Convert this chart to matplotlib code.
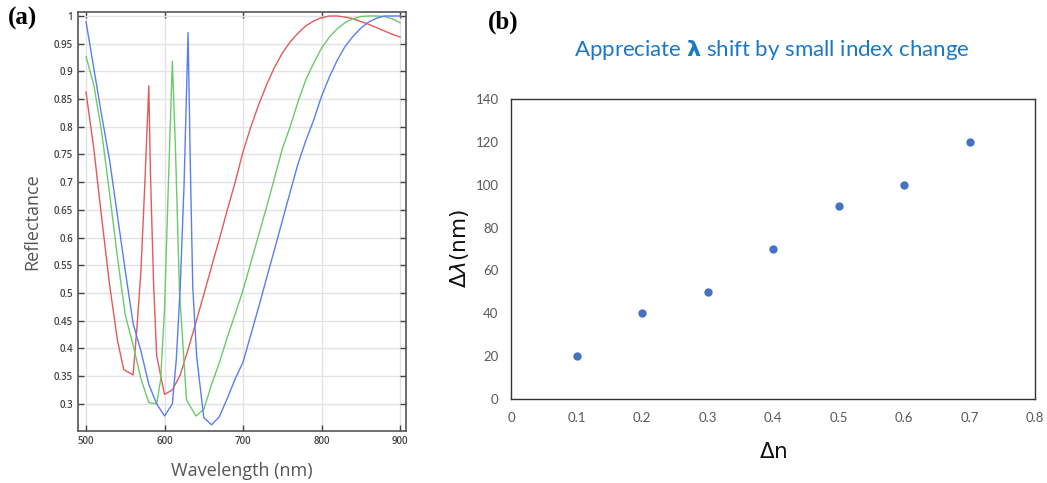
import matplotlib
matplotlib.use("Agg")
import matplotlib.pyplot as plt

# ---------------- Panel (a) data ----------------
red_wl = [500, 510, 520, 530, 540, 548, 560, 565, 570, 575, 580, 582, 586, 590, 600,
          610, 620, 630, 640, 650, 660, 670, 680, 690, 700, 710, 720, 730, 740, 750,
          760, 770, 780, 790, 800, 810, 820, 830, 840, 850, 860, 870, 880, 890, 900]
red_r = [0.863, 0.76, 0.635, 0.515, 0.415, 0.362, 0.352, 0.44, 0.54, 0.70, 0.874, 0.72,
         0.52, 0.387, 0.317, 0.325, 0.352, 0.398, 0.447, 0.497, 0.548, 0.598, 0.65, 0.70,
         0.755, 0.80, 0.84, 0.876, 0.907, 0.933, 0.953, 0.969, 0.982, 0.991, 0.997, 1.0,
         1.0, 0.998, 0.995, 0.99, 0.985, 0.979, 0.973, 0.967, 0.962]

green_wl = [500, 510, 520, 530, 540, 550, 560, 570, 580, 590, 595, 600, 605, 610, 614,
            619, 628, 640, 650, 660, 670, 680, 690, 700, 710, 720, 730, 740, 750, 760,
            770, 780, 790, 800, 810, 820, 830, 840, 850, 860, 870, 880, 890, 900]
green_r = [0.927, 0.875, 0.79, 0.68, 0.565, 0.46, 0.406, 0.345, 0.302, 0.30, 0.343, 0.47,
           0.70, 0.918, 0.758, 0.505, 0.307, 0.278, 0.29, 0.335, 0.375, 0.42, 0.462, 0.505,
           0.555, 0.605, 0.655, 0.707, 0.76, 0.80, 0.845, 0.885, 0.915, 0.942, 0.962, 0.977,
           0.988, 0.995, 0.999, 1.0, 1.0, 0.999, 0.995, 0.988]

blue_wl = [500, 510, 520, 530, 540, 550, 560, 570, 580, 590, 600, 610, 615, 620, 625,
           630, 633, 636, 641, 650, 660, 670, 680, 690, 700, 710, 720, 730, 740, 750,
           760, 770, 780, 790, 800, 810, 820, 830, 840, 850, 860, 870, 880, 890, 900]
blue_r = [0.99, 0.905, 0.82, 0.74, 0.64, 0.54, 0.445, 0.395, 0.335, 0.30, 0.278, 0.30,
          0.38, 0.51, 0.70, 0.97, 0.72, 0.51, 0.385, 0.275, 0.262, 0.277, 0.31, 0.345,
          0.375, 0.425, 0.475, 0.527, 0.578, 0.63, 0.682, 0.733, 0.775, 0.812, 0.855,
          0.89, 0.92, 0.945, 0.963, 0.978, 0.989, 0.996, 1.0, 1.0, 1.0]

a_xticks = [500, 600, 700, 800, 900]
a_yticks = [0.3, 0.35, 0.4, 0.45, 0.5, 0.55, 0.6, 0.65, 0.7, 0.75, 0.8, 0.85, 0.9, 0.95, 1.0]
a_yticklabels = ["0.3", "0.35", "0.4", "0.45", "0.5", "0.55", "0.6", "0.65", "0.7",
                 "0.75", "0.8", "0.85", "0.9", "0.95", "1"]

# ---------------- Panel (b) data ----------------
dn = [0.1, 0.2, 0.3, 0.4, 0.5, 0.6, 0.7]
dlam = [20, 40, 50, 70, 90, 100, 120]
b_xticks = [0, 0.1, 0.2, 0.3, 0.4, 0.5, 0.6, 0.7, 0.8]
b_xticklabels = ["0", "0.1", "0.2", "0.3", "0.4", "0.5", "0.6", "0.7", "0.8"]
b_yticks = [0, 20, 40, 60, 80, 100, 120, 140]

W, H = 1047, 483
fig = plt.figure(figsize=(W / 100, H / 100), dpi=100)

# ---------- (a) ----------
axa = fig.add_axes([78 / W, 1 - 431 / H, (406 - 78) / W, (431 - 12) / H])
axa.plot(red_wl, red_r, color="#e35a5a", lw=1.0)
axa.plot(green_wl, green_r, color="#6acb6a", lw=1.0)
axa.plot(blue_wl, blue_r, color="#5a7ef2", lw=1.0)
axa.set_xlim(489.8, 907.6)
axa.set_ylim(0.2509, 1.0072)
axa.set_xticks(a_xticks)
axa.set_yticks(a_yticks)
axa.set_yticklabels(a_yticklabels)
axa.grid(True, color="#e3e3e3", lw=1.0)
axa.set_axisbelow(True)
axa.tick_params(direction="in", top=True, right=True, length=4, width=1,
                color="#444444", labelsize=7, labelcolor="#444444")
for lab in axa.get_xticklabels() + axa.get_yticklabels():
    lab.set_fontfamily("Open Sans")
    lab.set_fontweight("semibold")
for s in axa.spines.values():
    s.set_color("#555555")
    s.set_linewidth(1.2)
axa.set_xlabel("Wavelength (nm)", fontsize=13, color="#555555",
               fontfamily="Open Sans", labelpad=11)
axa.set_ylabel("Reflectance", fontsize=13, color="#555555",
               fontfamily="Open Sans", labelpad=9)
fig.text(8 / W, 1 - 18 / H, "(a)", fontsize=18, fontweight="bold",
         fontfamily="Liberation Serif", va="center", ha="left")

# ---------- (b) ----------
axb = fig.add_axes([511 / W, 1 - 399 / H, 524 / W, 300 / H])
axb.scatter(dn, dlam, s=36, color="#4472c4", zorder=3, linewidths=0)
axb.set_xlim(0, 0.8)
axb.set_ylim(0, 140)
axb.set_xticks(b_xticks)
axb.set_xticklabels(b_xticklabels)
axb.set_yticks(b_yticks)
axb.tick_params(length=0, labelsize=9.5, labelcolor="#595959", pad=9)
for lab in axb.get_xticklabels() + axb.get_yticklabels():
    lab.set_fontfamily("Lato")
for s in axb.spines.values():
    s.set_color("#333333")
    s.set_linewidth(1.0)
axb.set_xlabel(r"$\Delta$n", fontsize=15.5, color="#111111", labelpad=13)
axb.set_ylabel(r"$\Delta\lambda$(nm)", fontsize=15.5, color="#111111", labelpad=3)
fig.text(488 / W, 1 - 22 / H, "(b)", fontsize=18, fontweight="bold",
         fontfamily="Liberation Serif", va="center", ha="left")
fig.text(772 / W, 1 - 50 / H, r"Appreciate $\boldsymbol{\lambda}$ shift by small index change",
         fontsize=16, color="#1a78c8", fontfamily="Lato", ha="center", va="center")

fig.savefig("out.png", dpi=100)
